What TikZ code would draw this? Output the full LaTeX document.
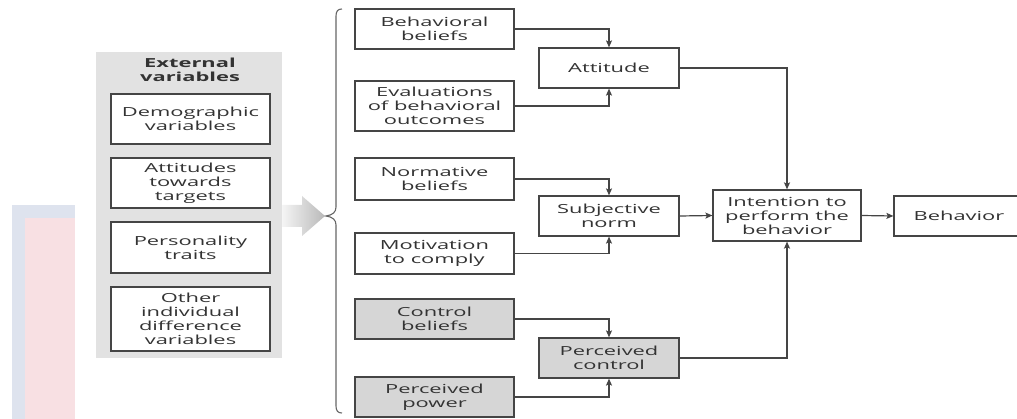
\documentclass[tikz,border=0pt]{standalone}
\usepackage{fontspec}
\setmainfont{Open Sans}[FakeStretch=1.75]
\usetikzlibrary{arrows.meta}
\definecolor{txt}{HTML}{333333}
\definecolor{edge}{HTML}{454545}
\definecolor{panel}{HTML}{E2E2E2}
\definecolor{grayfill}{HTML}{D6D6D6}
\definecolor{bgblue}{HTML}{DEE3EE}
\definecolor{bgpink}{HTML}{F8E0E3}
\begin{document}
\begin{tikzpicture}[x=1pt,y=-1pt,
  lbl/.style={font=\fontsize{12.5}{14}\selectfont, text=txt, align=center, inner sep=0pt},
  box/.style={lbl, draw=edge, line width=1.2pt, fill=white},
  gbox/.style={box, fill=grayfill},
  sz/.style 2 args={minimum width=#1, minimum height=#2},
  arr/.style={draw=edge, line width=1.2pt, -{Stealth[length=7pt,width=6pt,inset=1.5pt]}},
  brace/.style={draw=gray!80!black, line width=1.1pt}
]
\useasboundingbox (0,0) rectangle (1017,419);
% background decoration
\fill[bgblue] (12,205) rectangle (75,419);
\fill[bgpink] (25,218) rectangle (75,419);
% external variables panel
\node[fill=panel, inner sep=0pt, sz={186}{306}] (ext) at (189,205) {};
\node[lbl, font=\fontsize{12.5}{14}\selectfont\bfseries] (exttitle) at (190,70) {External\\variables};
\node[box, sz={159}{50}] (demo) at (190.5,119) {Demographic\\variables};
\node[box, sz={159}{50}] (atttar) at (190.5,183) {Attitudes\\towards\\targets};
\node[box, sz={159}{51}] (pers) at (190.5,247.5) {Personality\\traits};
\node[box, sz={159}{64}] (other) at (190.5,319) {Other\\individual\\difference\\variables};
% big gray arrow
\shade[left color=gray!8, right color=gray!55] (282,205) -- (302,205) -- (302,196) -- (325,216) -- (302,236) -- (302,227) -- (282,227) -- cycle;
% brace
\coordinate (bracetip) at (326,216);
\draw[brace] (342,9) .. controls (338,9) and (336,11) .. (336,16) -- (336,207)
  .. controls (336,212) and (333,215) .. (bracetip)
  .. controls (333,217) and (336,220) .. (336,225) -- (336,406)
  .. controls (336,411) and (338,413) .. (342,413);
% left column
\node[box, sz={159}{40}] (bb) at (434.5,29) {Behavioral\\beliefs};
\node[box, sz={159}{50}] (eval) at (434.5,106) {Evaluations\\of behavioral\\outcomes};
\node[box, sz={159}{42}] (nb) at (434.5,179) {Normative\\beliefs};
\node[box, sz={159}{41}] (mc) at (434.5,253.5) {Motivation\\to comply};
\node[gbox, sz={159}{40}] (cb) at (434.5,319) {Control\\beliefs};
\node[gbox, sz={159}{40}] (pp) at (434.5,397) {Perceived\\power};
% middle column
\node[box, sz={140}{40}] (att) at (609,68) {Attitude};
\node[box, sz={140}{40}] (sn) at (609,216) {Subjective\\norm};
\node[gbox, sz={140}{40}] (pc) at (609,358) {Perceived\\control};
% right
\node[box, sz={148}{51}] (int) at (787,215.5) {Intention to\\perform the\\behavior};
\node[box, sz={150}{40}] (beh) at (969,216) {\hspace*{-20pt}Behavior};
% connectors
\draw[arr] (bb.east) -| (att.north);
\draw[arr] (eval.east) -| (att.south);
\draw[arr] (nb.east) -| (sn.north);
\draw[arr] (mc.east) -| (sn.south);
\draw[arr] (cb.east) -| (pc.north);
\draw[arr] (pp.east) -| (pc.south);
\draw[arr, line width=1.6pt] (att.east) -| (int.north);
\draw[arr, line width=1.6pt] (pc.east) -| (int.south);
\draw[arr] (sn.east) -- (int.west);
\draw[arr] (int.east) -- (beh.west);
\end{tikzpicture}
\end{document}
